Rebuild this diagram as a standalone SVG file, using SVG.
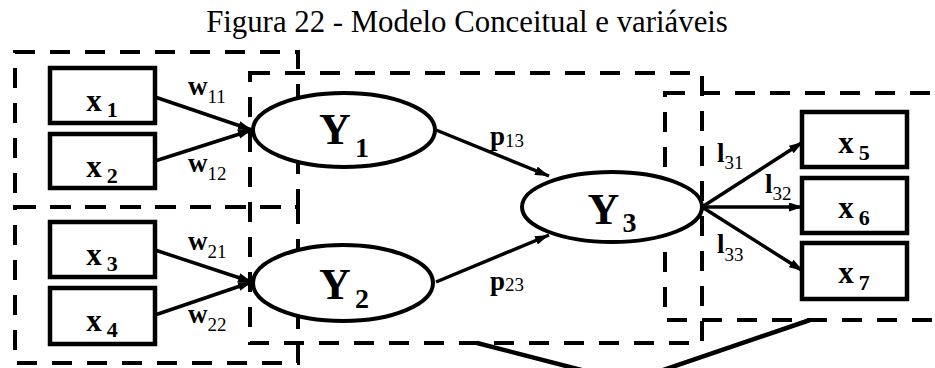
<svg xmlns="http://www.w3.org/2000/svg" width="935" height="368" viewBox="0 0 935 368">
<style>
.bg{fill:#fff}
.dash{fill:none;stroke:#000;stroke-width:4;stroke-dasharray:20 15}
.box{fill:#fff;stroke:#000;stroke-width:4.5}
.ell{fill:#fff;stroke:#000;stroke-width:4}
.arr{fill:none;stroke:#000;stroke-width:3.5;marker-end:url(#ah)}
.thick{fill:none;stroke:#000;stroke-width:4.5}
text{font-family:"Liberation Serif","Times New Roman",serif;fill:#000}
.title{font-size:30.8px}
.xv{font-size:31px;font-weight:bold}
.xs{font-size:22px;font-weight:bold}
.lab{font-size:27px;font-weight:bold}
.sub{font-size:19px;font-weight:normal}
.yv{font-size:44px;font-weight:bold}
.ys{font-size:28px;font-weight:bold}
</style>
<defs>
<marker id="ah" markerUnits="userSpaceOnUse" markerWidth="16" markerHeight="10" refX="14" refY="4.5" orient="auto">
<path d="M0,0 L14,4.5 L0,9 Z" fill="#000"/>
</marker>
</defs>
<rect class="bg" x="0" y="0" width="935" height="368"/>
<text class="title" x="467" y="32" text-anchor="middle">Figura 22 - Modelo Conceitual e variáveis</text>

<g id="groups">
<rect class="dash" x="15" y="52" width="283" height="155"/>
<rect class="dash" x="15" y="207" width="283" height="156"/>
<rect class="dash" x="250" y="73" width="452" height="270"/>
<rect class="dash" x="665" y="93" width="300" height="227"/>
</g>

<g id="connectors">
<line class="arr" x1="155" y1="97" x2="252" y2="130"/>
<line class="arr" x1="155" y1="161" x2="252" y2="130"/>
<line class="arr" x1="155" y1="250" x2="252" y2="282"/>
<line class="arr" x1="155" y1="315" x2="252" y2="282"/>
<line class="arr" x1="436" y1="130" x2="549" y2="176"/>
<line class="arr" x1="436" y1="282" x2="549" y2="235"/>
<line class="arr" x1="702" y1="207" x2="803" y2="142"/>
<line class="arr" x1="702" y1="207" x2="803" y2="207"/>
<line class="arr" x1="702" y1="207" x2="803" y2="271"/>
<polyline class="thick" points="477,343 628,382 810,320"/>
<text class="lab" x="188" y="95">w<tspan class="sub" dy="8">11</tspan></text>
<text class="lab" x="188" y="172">w<tspan class="sub" dy="8">12</tspan></text>
<text class="lab" x="188" y="250">w<tspan class="sub" dy="8">21</tspan></text>
<text class="lab" x="188" y="323">w<tspan class="sub" dy="8">22</tspan></text>
<text class="lab" x="490" y="145">p<tspan class="sub" dy="2">13</tspan></text>
<text class="lab" x="490" y="290">p<tspan class="sub" dy="1">23</tspan></text>
<text class="lab" x="717" y="162">l<tspan class="sub" dy="7">31</tspan></text>
<text class="lab" x="765" y="193">l<tspan class="sub" dy="7">32</tspan></text>
<text class="lab" x="717" y="253">l<tspan class="sub" dy="8">33</tspan></text>
</g>

<g id="x1"><rect class="box" x="50" y="68" width="105" height="55"/><text class="xv" x="102" y="111" text-anchor="middle">x<tspan class="xs" dx="5" dy="6">1</tspan></text></g>
<g id="x2"><rect class="box" x="50" y="134" width="105" height="54"/><text class="xv" x="102" y="177" text-anchor="middle">x<tspan class="xs" dx="5" dy="6">2</tspan></text></g>
<g id="x3"><rect class="box" x="50" y="222" width="105" height="55"/><text class="xv" x="102" y="265" text-anchor="middle">x<tspan class="xs" dx="5" dy="6">3</tspan></text></g>
<g id="x4"><rect class="box" x="50" y="288" width="105" height="56"/><text class="xv" x="102" y="331" text-anchor="middle">x<tspan class="xs" dx="5" dy="6">4</tspan></text></g>

<g id="Y1"><ellipse class="ell" cx="344" cy="130" rx="91" ry="37"/><text class="yv" x="344" y="144" text-anchor="middle">Y<tspan class="ys" dx="4" dy="13">1</tspan></text></g>
<g id="Y2"><ellipse class="ell" cx="343" cy="283" rx="90" ry="38"/><text class="yv" x="344" y="299" text-anchor="middle">Y<tspan class="ys" dx="4" dy="9">2</tspan></text></g>
<g id="Y3"><ellipse class="ell" cx="612" cy="207" rx="90" ry="35"/><text class="yv" x="612" y="224" text-anchor="middle">Y<tspan class="ys" dx="3" dy="8">3</tspan></text></g>

<g id="x5"><rect class="box" x="802" y="112" width="105" height="55"/><text class="xv" x="854" y="153" text-anchor="middle">x<tspan class="xs" dx="5" dy="7">5</tspan></text></g>
<g id="x6"><rect class="box" x="802" y="178" width="105" height="55"/><text class="xv" x="854" y="218" text-anchor="middle">x<tspan class="xs" dx="5" dy="7">6</tspan></text></g>
<g id="x7"><rect class="box" x="802" y="243" width="105" height="56"/><text class="xv" x="854" y="283" text-anchor="middle">x<tspan class="xs" dx="5" dy="7" font-weight="normal">7</tspan></text></g>
</svg>
